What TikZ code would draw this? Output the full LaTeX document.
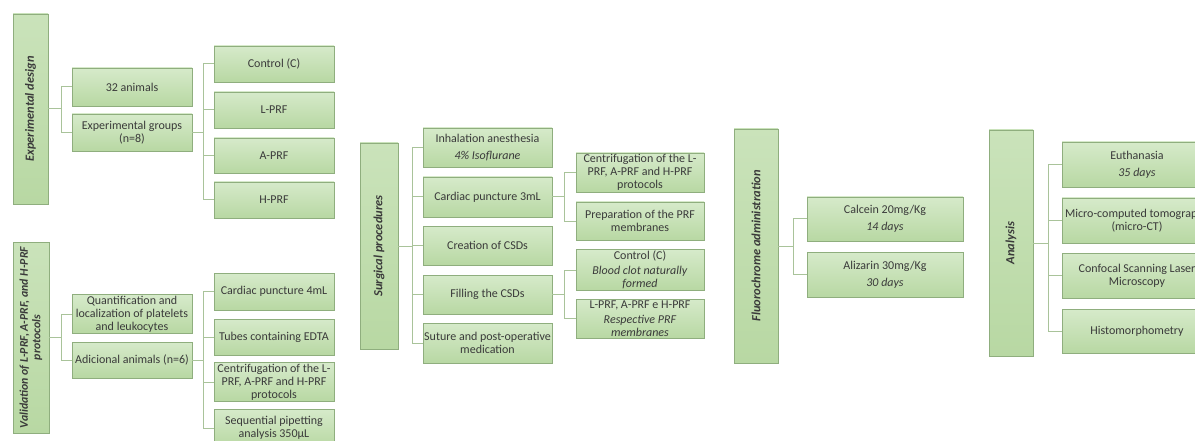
\documentclass[tikz,border=0pt]{standalone}
\usepackage{fontspec}
\setmainfont{Carlito}
\definecolor{boxtop}{HTML}{D6EACA}
\definecolor{boxbot}{HTML}{B8D8A3}
\definecolor{boxline}{HTML}{8FAE7E}
\definecolor{connline}{HTML}{A9C39A}
\definecolor{txt}{HTML}{3A3A3A}
\tikzset{
  box/.style={draw=boxline, line width=0.9pt, top color=boxtop, bottom color=boxbot,
    align=center, text=txt, inner sep=1pt, font=\fontsize{12}{13}\selectfont},
  tallbox/.style={draw=boxline, line width=0.9pt, top color=boxtop!60!boxbot, bottom color=boxbot},
  vlabel/.style={rotate=90, align=center, text=txt, font=\fontsize{12.5}{13}\selectfont\bfseries\itshape},
  conn/.style={draw=connline, line width=1pt}
}
\begin{document}
\begin{tikzpicture}[x=1pt,y=-1pt]
\useasboundingbox (0,0) rectangle (1195,441);
\clip (0,0) rectangle (1195,441);
\fill[white] (0,0) rectangle (1195,441);

% ---------------- Experimental design
\node[tallbox, minimum width=35, minimum height=190] (ed) at (30.5,109) {};
\node[vlabel] (edl) at (ed) {Experimental design};
\node[box, minimum width=120, minimum height=38] (a32) at (132,87) {32 animals};
\node[box, minimum width=120, minimum height=37] (eg) at (132,132.5) {Experimental groups\\(n=8)};
\node[box, minimum width=120, minimum height=36] (c1) at (274,64) {Control (C)};
\node[box, minimum width=120, minimum height=36] (c2) at (274,110) {L-PRF};
\node[box, minimum width=120, minimum height=35] (c3) at (274,155.5) {A-PRF};
\node[box, minimum width=120, minimum height=36] (c4) at (274,200) {H-PRF};
\draw[conn] (ed.east) -- ++(13,0) coordinate (j1);
\draw[conn] (j1) |- (a32.west);
\draw[conn] (j1) |- (eg.west);
\draw[conn] (eg.east) -- ++(11,0) coordinate (j2);
\foreach \n in {c1,c2,c3,c4} \draw[conn] (j2) |- (\n.west);

% ---------------- Validation
\node[tallbox, minimum width=36, minimum height=191] (va) at (31,337.5) {};
\node[vlabel, font=\fontsize{11.8}{12.5}\selectfont\bfseries\itshape] (val) at (va) {Validation of L-PRF, A-PRF, and H-PRF\\protocols};
\node[box, minimum width=120, minimum height=38] (qu) at (132,314) {Quantification and\\localization of platelets\\and leukocytes};
\node[box, minimum width=120, minimum height=36] (ad) at (132,360) {Adicional animals (n=6)};
\node[box, minimum width=120, minimum height=37] (v1) at (274,291.5) {Cardiac puncture 4mL};
\node[box, minimum width=120, minimum height=36] (v2) at (274,337) {Tubes containing EDTA};
\node[box, minimum width=120, minimum height=38] (v3) at (274,382) {Centrifugation of the L-\\PRF, A-PRF and H-PRF\\protocols};
\node[box, minimum width=120, minimum height=38] (v4) at (274,428) {Sequential pipetting\\analysis 350µL};
\draw[conn] (va.east) -- ++(12,0) coordinate (j3);
\draw[conn] (j3) |- (qu.west);
\draw[conn] (j3) |- (ad.west);
\draw[conn] (ad.east) -- ++(11,0) coordinate (j4);
\foreach \n in {v1,v2,v3,v4} \draw[conn] (j4) |- (\n.west);

% ---------------- Surgical procedures
\node[tallbox, minimum width=38, minimum height=206] (sp) at (379,246) {};
\node[vlabel] (spl) at (sp) {Surgical procedures};
\node[box, minimum width=129, minimum height=39] (s1) at (487.5,147.5) {Inhalation anesthesia\\[4pt]\textit{4\% Isoflurane}};
\node[box, minimum width=129, minimum height=40] (s2) at (487.5,197) {Cardiac puncture 3mL};
\node[box, minimum width=129, minimum height=39] (s3) at (487.5,245.5) {Creation of CSDs};
\node[box, minimum width=129, minimum height=39] (s4) at (487.5,294.5) {Filling the CSDs};
\node[box, minimum width=129, minimum height=40] (s5) at (487.5,343) {Suture and post-operative\\medication};
\draw[conn] (sp.east) -- ++(14,0) coordinate (j5);
\foreach \n in {s1,s2,s3,s4,s5} \draw[conn] (j5) |- (\n.west);
\node[box, minimum width=128, minimum height=39] (t1) at (640,172.5) {Centrifugation of the L-\\PRF, A-PRF and H-PRF\\protocols};
\node[box, minimum width=128, minimum height=38] (t2) at (640,221) {Preparation of the PRF\\membranes};
\node[box, minimum width=128, minimum height=40] (t3) at (640,270) {Control (C)\\[2pt]\textit{Blood clot naturally}\\\textit{formed}};
\node[box, minimum width=128, minimum height=39] (t4) at (640,318.5) {L-PRF, A-PRF e H-PRF\\[2pt]\textit{Respective PRF}\\\textit{membranes}};
\draw[conn] (s2.east) -- ++(12,0) coordinate (j6);
\draw[conn] (j6) |- (t1.west);
\draw[conn] (j6) |- (t2.west);
\draw[conn] (s4.east) -- ++(12,0) coordinate (j7);
\draw[conn] (j7) |- (t3.west);
\draw[conn] (j7) |- (t4.west);

% ---------------- Fluorochrome administration
\node[tallbox, minimum width=44, minimum height=234] (fa) at (756,246) {};
\node[vlabel] (fal) at (fa) {Fluorochrome administration};
\node[box, minimum width=156, minimum height=44] (f1) at (885,219) {Calcein 20mg/Kg\\[4pt]\textit{14 days}};
\node[box, minimum width=156, minimum height=45] (f2) at (885,274.5) {Alizarin 30mg/Kg\\[4pt]\textit{30 days}};
\draw[conn] (fa.east) -- ++(15,0) coordinate (j8);
\draw[conn] (j8) |- (f1.west);
\draw[conn] (j8) |- (f2.west);

% ---------------- Analysis
\node[tallbox, minimum width=44, minimum height=226] (an) at (1011,243) {};
\node[vlabel] (anl) at (an) {Analysis};
\node[box, minimum width=150, minimum height=45] (n1) at (1137,164.5) {Euthanasia\\[4pt]\textit{35 days}};
\node[box, minimum width=150, minimum height=45] (n2) at (1137,220.5) {Micro-computed tomography\\(micro-CT)};
\node[box, minimum width=150, minimum height=45] (n3) at (1137,275.5) {Confocal Scanning Laser\\Microscopy};
\node[box, minimum width=150, minimum height=44] (n4) at (1137,331) {Histomorphometry};
\draw[conn] (an.east) -- ++(15,0) coordinate (j9);
\foreach \n in {n1,n2,n3,n4} \draw[conn] (j9) |- (\n.west);
\end{tikzpicture}
\end{document}
